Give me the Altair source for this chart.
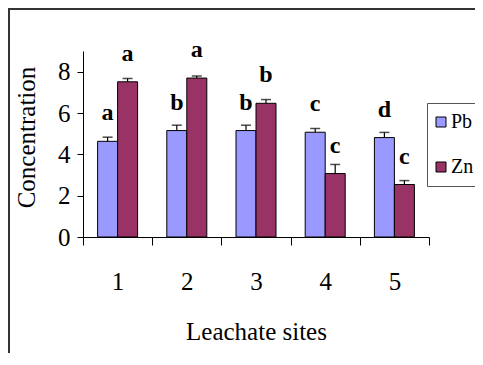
import altair as alt
import pandas as pd

sites = ["1", "2", "3", "4", "5"]
metals = ["Pb", "Zn"]
pb = [4.63, 5.15, 5.15, 5.07, 4.81]
pb_err = [0.20, 0.26, 0.26, 0.18, 0.25]
zn = [7.51, 7.69, 6.47, 3.07, 2.54]
zn_err = [0.16, 0.10, 0.18, 0.44, 0.19]
pb_letters = ["a", "b", "b", "c", "d"]
zn_letters = ["a", "a", "b", "c", "c"]
colors = ["#9999FF", "#993366"]

rows = []
for i, s in enumerate(sites):
    rows.append({"site": s, "metal": "Pb", "value": pb[i], "top": pb[i] + pb_err[i], "letter": pb_letters[i]})
    rows.append({"site": s, "metal": "Zn", "value": zn[i], "top": zn[i] + zn_err[i], "letter": zn_letters[i]})
df = pd.DataFrame(rows)

FONT = "Liberation Serif"

x = alt.X("site:N", sort=sites,
          scale=alt.Scale(paddingInner=0, paddingOuter=0),
          axis=alt.Axis(title="Leachate sites", labelAngle=0, tickBand="extent",
                        tickSize=8, tickColor="black", domainColor="black",
                        labelFont=FONT, labelFontSize=25, labelColor="black",
                        labelPadding=24, titleFont=FONT, titleFontSize=25,
                        titleFontWeight="normal", titleColor="black", titlePadding=25))
xo = alt.XOffset("metal:N", sort=metals, scale=alt.Scale(paddingInner=0, paddingOuter=0.73))
y = alt.Y("value:Q", scale=alt.Scale(domain=[0, 9], nice=False),
          axis=alt.Axis(title="Concentration", values=[0, 2, 4, 6, 8], grid=False,
                        tickSize=6, tickColor="black", domainColor="black",
                        labelFont=FONT, labelFontSize=25, labelColor="black", labelPadding=7,
                        titleFont=FONT, titleFontSize=25, titleFontWeight="normal",
                        titleColor="black", titleX=-44, titleY=86))

color = alt.Color("metal:N", sort=metals, scale=alt.Scale(domain=metals, range=colors),
                  legend=alt.Legend(title=None, orient="none", legendX=344, legendY=52,
                                    strokeColor="#555", padding=9, symbolType="square",
                                    symbolSize=100, symbolStrokeColor="black",
                                    symbolOffset=-5, symbolStrokeWidth=1,
                                    labelFont=FONT, labelFontSize=20,
                                    labelColor="black", rowPadding=25, labelOffset=0))

base = alt.Chart(df)
bars = base.mark_bar(stroke="black", strokeWidth=1).encode(x=x, xOffset=xo, y=y, color=color)
err = base.mark_rule(color="black", strokeWidth=1.2).encode(x=x, xOffset=xo, y="value:Q", y2="top:Q")
caps = base.mark_tick(orient="horizontal", color="black", size=10, thickness=1.5).encode(
    x=x, xOffset=xo, y="top:Q")
labels = base.mark_text(font=FONT, fontSize=24, fontWeight="bold", dy=-21,
                        baseline="alphabetic", color="black").encode(
    x=x, xOffset=xo, y="value:Q", text="letter:N")

frame = alt.Chart(pd.DataFrame({"k": [0]})).mark_rect(
    fill=None, stroke="#333", strokeWidth=2).encode(
    x=alt.value(-74), x2=alt.value(700), y=alt.value(-42), y2=alt.value(600))

chart = alt.layer(frame, bars, err, caps, labels).properties(
    width=346, height=186,
    autosize=alt.AutoSizeParams(type="none"),
    padding={"left": 75, "top": 43, "right": 46, "bottom": 116},
).configure_view(stroke=None)

chart.save("out.html", embed_options={"renderer": "svg", "actions": False})
